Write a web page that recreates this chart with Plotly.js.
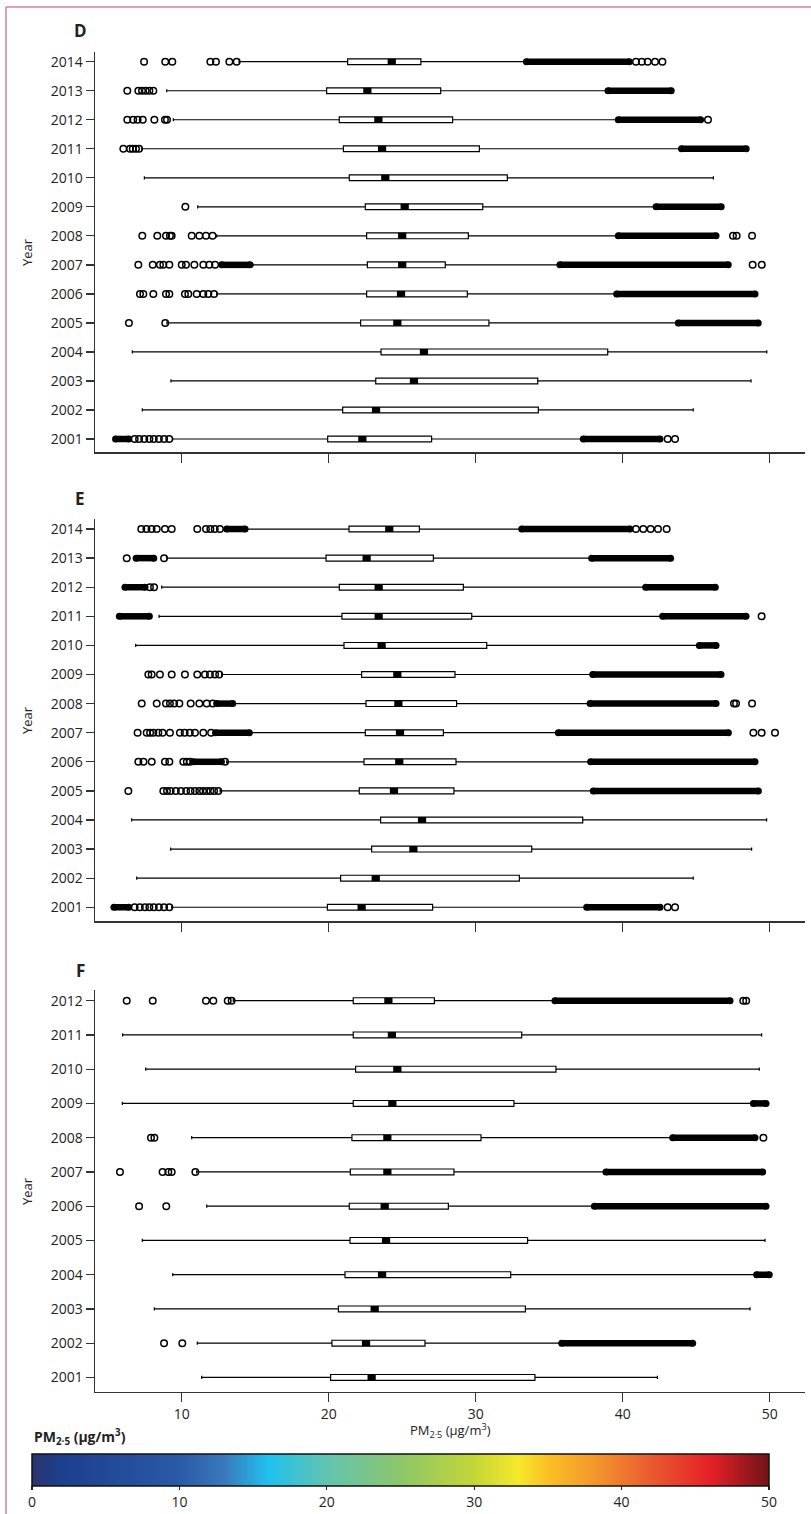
<!DOCTYPE html>
<html>
<head>
<meta charset="utf-8">
<script src="https://cdn.plot.ly/plotly-3.0.1.min.js"></script>
<style>html,body{margin:0;padding:0;background:#fff;}#chart{width:811px;height:1514px;}</style>
</head>
<body>
<div id="chart"></div>
<script>
// ---------- Panel D (2014 -> 2001) ----------
const yearsD = [2014,2013,2012,2011,2010,2009,2008,2007,2006,2005,2004,2003,2002,2001];
const loD  = [13.9, 8.98, 9.43, 7.28, 7.46, 11.09, 12.38, 14.83, 12.38, 9.0, 6.64, 9.27, 7.32, 9.38];
const q1D  = [21.29, 19.86, 20.72, 21.0, 21.4, 22.49, 22.58, 22.63, 22.58, 22.17, 23.56, 23.2, 20.95, 19.93];
const medD = [24.29, 22.63, 23.38, 23.63, 23.85, 25.17, 25.0, 25.0, 24.92, 24.67, 26.48, 25.8, 23.22, 22.29];
const q3D  = [26.27, 27.62, 28.43, 30.25, 32.15, 30.48, 29.5, 27.93, 29.43, 30.9, 38.98, 34.22, 34.26, 27.0];
const hiD  = [33.45, 39.0, 39.7, 44.0, 46.17, 42.27, 39.7, 35.73, 39.59, 43.78, 49.8, 48.73, 44.8, 37.32];
const outD = [
  [7.44, 8.88, 9.36, 11.95, 12.33, 13.24, 13.74, 40.9, 41.3, 41.7, 42.2, 42.7],
  [6.30, 7.05, 7.3, 7.55, 7.8, 8.07],
  [6.3, 6.7, 7.0, 7.35, 8.14, 8.86, 9.0, 45.8],
  [6.03, 6.48, 6.67, 6.89, 7.1],
  [],
  [10.25],
  [7.32, 8.34, 8.93, 9.2, 9.32, 10.68, 11.2, 11.65, 12.1, 47.5, 47.75, 48.8],
  [7.05, 8.03, 8.52, 8.75, 9.16, 10.0, 10.29, 10.86, 11.47, 11.88, 12.27, 48.84, 49.46],
  [7.16, 7.39, 8.07, 8.93, 9.16, 10.22, 10.45, 11.02, 11.47, 11.81, 12.2],
  [6.41, 8.88],
  [], [], [],
  [6.8, 7.1, 7.45, 7.8, 8.1, 8.45, 8.8, 9.15, 43.06, 43.56]
];
const denseLoD = [null, null, null, null, null, null, null, [12.72, 14.65], null, null, null, null, null, [5.5, 6.4]];
const denseHiD = [[33.45, 40.45], [39.0, 43.3], [39.7, 45.3], [44.0, 48.4], null, [42.27, 46.7], [39.7, 46.35],
                  [35.73, 47.18], [39.59, 49.0], [43.78, 49.22], null, null, null, [37.32, 42.54]];

// ---------- Panel E (2014 -> 2001) ----------
const yearsE = [2014,2013,2012,2011,2010,2009,2008,2007,2006,2005,2004,2003,2002,2001];
const loE  = [14.42, 8.98, 8.64, 8.46, 6.87, 12.72, 13.51, 14.65, 13.06, 12.61, 6.6, 9.25, 6.94, 9.32];
const q1E  = [21.38, 19.82, 20.72, 20.9, 21.04, 22.24, 22.54, 22.49, 22.4, 22.08, 23.53, 22.92, 20.81, 19.91];
const medE = [24.12, 22.58, 23.4, 23.4, 23.6, 24.67, 24.74, 24.85, 24.8, 24.44, 26.35, 25.76, 23.2, 22.24];
const q3E  = [26.17, 27.12, 29.16, 29.73, 30.75, 28.59, 28.7, 27.8, 28.66, 28.52, 37.28, 33.81, 32.97, 27.07];
const hiE  = [33.13, 37.89, 41.56, 42.72, 45.21, 37.96, 37.78, 35.62, 37.82, 38.0, 49.79, 48.77, 44.8, 37.55];
const outE = [
  [7.25, 7.6, 7.95, 8.3, 8.86, 9.32, 11.06, 11.65, 11.95, 12.25, 12.6, 40.9, 41.4, 41.9, 42.4, 42.99],
  [6.26, 8.8],
  [7.84, 8.12],
  [49.45],
  [],
  [7.73, 7.96, 8.52, 9.32, 10.22, 11.06, 11.58, 11.92, 12.27, 12.55],
  [7.28, 8.3, 8.93, 9.2, 9.48, 9.84, 10.61, 11.2, 11.7, 12.11, 47.57, 47.71, 48.8],
  [7.0, 7.62, 7.85, 8.07, 8.41, 8.7, 9.2, 9.88, 10.2, 10.55, 10.9, 11.47, 12.0, 48.89, 49.45, 50.36],
  [7.05, 7.4, 7.96, 8.86, 9.16, 10.11, 10.35, 10.56, 12.95],
  [6.37, 8.75, 9.0, 9.25, 9.6, 9.95, 10.3, 10.6, 10.9, 11.2, 11.45, 11.7, 11.95, 12.2, 12.49],
  [], [], [],
  [6.8, 7.15, 7.5, 7.8, 8.1, 8.45, 8.8, 9.16, 43.06, 43.56]
];
const denseLoE = [[13.06, 14.31], [6.9, 8.1], [6.14, 7.5], [5.76, 7.8], null, null, [12.38, 13.47], [12.3, 14.6],
                  [10.79, 12.7], null, null, null, null, [5.39, 6.4]];
const denseHiE = [[33.13, 40.5], [37.89, 43.26], [41.56, 46.3], [42.72, 48.39], [45.21, 46.35], [37.96, 46.69],
                  [37.78, 46.35], [35.62, 47.19], [37.82, 49.0], [38.0, 49.23], null, null, null, [37.55, 42.54]];

// ---------- Panel F (2012 -> 2001) ----------
const yearsF = [2012,2011,2010,2009,2008,2007,2006,2005,2004,2003,2002,2001];
const loF  = [13.51, 5.98, 7.55, 5.96, 10.68, 11.02, 11.7, 7.32, 9.39, 8.14, 11.06, 11.36];
const q1F  = [21.67, 21.67, 21.83, 21.67, 21.58, 21.47, 21.4, 21.45, 21.11, 20.66, 20.22, 20.13];
const medF = [24.06, 24.3, 24.67, 24.33, 23.99, 23.99, 23.81, 23.9, 23.63, 23.13, 22.54, 22.92];
const q3F  = [27.19, 33.13, 35.46, 32.6, 30.36, 28.52, 28.14, 33.53, 32.38, 33.38, 26.55, 34.03];
const hiF  = [35.39, 49.45, 49.29, 48.89, 43.4, 38.86, 38.07, 49.68, 49.11, 48.66, 35.85, 42.36];
const outF = [
  [6.26, 8.03, 11.65, 12.15, 13.13, 13.4, 48.2, 48.4],
  [], [], [],
  [7.91, 8.14, 49.57],
  [5.8, 8.7, 9.09, 9.32, 10.93],
  [7.1, 8.95],
  [], [], [],
  [8.8, 10.04],
  []
];
const denseLoF = [null, null, null, null, null, null, null, null, null, null, null, null];
const denseHiF = [[35.39, 47.3], null, null, [48.89, 49.75], [43.4, 49.0], [38.86, 49.52], [38.07, 49.75],
                  null, [49.11, 49.97], null, [35.85, 44.76], null];

// ---------- axis / colour scale ----------
const xTicks = [10, 20, 30, 40, 50];
const cbTicks = [0, 10, 20, 30, 40, 50];
const pmColorscale = [
  [0.00, '#2b3470'], [0.04, '#1c3f8e'], [0.20, '#2b5aa8'], [0.26, '#3a78bb'],
  [0.32, '#1fc0ee'], [0.40, '#62c4b0'], [0.50, '#8cc66a'], [0.60, '#c4d636'],
  [0.66, '#f6e92b'], [0.70, '#fbbf24'], [0.76, '#f39a2c'], [0.84, '#ea5a2f'],
  [0.92, '#e62128'], [1.00, '#6f1418']
];

// ---------- geometry helpers (pixels -> paper) ----------
const W = 811, H = 1514;
const px = x => x / W;
const py = y => 1 - y / H;
const FONT = 'Open Sans, Noto Sans, sans-serif';
const TXT = '#222';

const traces = [];
function panel(n, years, lo, q1, med, q3, hi, outs, dLo, dHi, boxW) {
  const xa = 'x' + (n === 1 ? '' : n), ya = 'y' + (n === 1 ? '' : n);
  traces.push({
    type: 'box', orientation: 'h', y: years, q1: q1, median: med, q3: q3,
    lowerfence: lo, upperfence: hi, xaxis: xa, yaxis: ya, boxpoints: false,
    fillcolor: '#ffffff', line: {color: '#000', width: 1.2}, width: boxW,
    whiskerwidth: 0.55, hoverinfo: 'skip', showlegend: false
  });
  // median as black block
  const mx = [], my = [];
  med.forEach((m, i) => { mx.push(m - 0.28, m + 0.28, null); my.push(years[i], years[i], null); });
  traces.push({type: 'scatter', mode: 'lines', x: mx, y: my, xaxis: xa, yaxis: ya,
    line: {color: '#000', width: 6}, hoverinfo: 'skip', showlegend: false});
  // individual outliers
  const ox = [], oy = [];
  outs.forEach((arr, i) => arr.forEach(v => { ox.push(v); oy.push(years[i]); }));
  traces.push({type: 'scatter', mode: 'markers', x: ox, y: oy, xaxis: xa, yaxis: ya,
    marker: {symbol: 'circle-open', size: 6.5, color: '#000', line: {width: 1.5, color: '#000'}},
    hoverinfo: 'skip', showlegend: false});
  // dense runs of overlapping outliers
  const dx = [], dy = [];
  [dLo, dHi].forEach(list => list.forEach((r, i) => {
    if (r) { dx.push(r[0], r[1], null); dy.push(years[i], years[i], null); }
  }));
  traces.push({type: 'scatter', mode: 'lines+markers', x: dx, y: dy, xaxis: xa, yaxis: ya,
    line: {color: '#000', width: 6.5}, marker: {symbol: 'circle', size: 7, color: '#000'},
    hoverinfo: 'skip', showlegend: false});
}
panel(1, yearsD, loD, q1D, medD, q3D, hiD, outD, denseLoD, denseHiD, 0.2);
panel(2, yearsE, loE, q1E, medE, q3E, hiE, outE, denseLoE, denseHiE, 0.2);
panel(3, yearsF, loF, q1F, medF, q3F, hiF, outF, denseLoF, denseHiF, 0.17);

// colour bar carrier (invisible marker)
traces.push({
  type: 'scatter', mode: 'markers', x: [20, 20], y: [2001, 2001], xaxis: 'x3', yaxis: 'y3',
  marker: {color: [cbTicks[0], cbTicks[cbTicks.length - 1]], opacity: 0, size: 1,
    colorscale: pmColorscale, cmin: 0, cmax: 50, showscale: true,
    colorbar: {
      orientation: 'h', x: px(400.5), xanchor: 'center', y: py(1454), yanchor: 'top',
      len: 737, lenmode: 'pixels', thickness: 32, thicknessmode: 'pixels',
      xpad: 0, ypad: 0, outlinewidth: 1.5, outlinecolor: '#111',
      ticks: 'outside', ticklen: 4, tickwidth: 1.2, tickcolor: '#222',
      tickvals: cbTicks, ticktext: cbTicks.map(String),
      tickfont: {family: FONT, size: 14, color: TXT}, title: {text: ''}
    }},
  hoverinfo: 'skip', showlegend: false
});

const xDom = [px(95), px(805)];
const xRange = [(95 - 34.7) / 14.7, (805 - 34.7) / 14.7];
function xaxis(showLabels, anchor) {
  return {domain: xDom, range: xRange, anchor: anchor, showline: true, linecolor: '#333', linewidth: 1.5,
    ticks: 'outside', ticklen: 9, tickwidth: 1.3, tickcolor: '#333', tickvals: xTicks,
    showticklabels: showLabels, tickfont: {family: FONT, size: 14, color: TXT},
    showgrid: false, zeroline: false, fixedrange: true};
}
function yaxis(top, bottom, range, years, anchor) {
  return {domain: [py(bottom), py(top)], range: range, anchor: anchor, showline: true, linecolor: '#333',
    linewidth: 1.5, ticks: 'outside', ticklen: 8, tickwidth: 1.3, tickcolor: '#333',
    tickvals: years, ticktext: years.map(String), tickfont: {family: FONT, size: 14, color: TXT},
    showgrid: false, zeroline: false, fixedrange: true};
}

const ann = [];
function label(text, x, y, opts) {
  ann.push(Object.assign({text: text, x: px(x), y: py(y), xref: 'paper', yref: 'paper', showarrow: false,
    xanchor: 'center', yanchor: 'middle', font: {family: FONT, size: 14, color: TXT}}, opts || {}));
}
label('<b>D</b>', 80, 31, {font: {family: FONT, size: 17, color: TXT}});
label('<b>E</b>', 80, 498, {font: {family: FONT, size: 17, color: TXT}});
label('<b>F</b>', 80, 970, {font: {family: FONT, size: 17, color: TXT}});
label('Year', 27, 252, {textangle: -90, font: {family: FONT, size: 13, color: TXT}});
label('Year', 27, 720, {textangle: -90, font: {family: FONT, size: 13, color: TXT}});
label('Year', 27, 1191, {textangle: -90, font: {family: FONT, size: 13, color: TXT}});
label('PM<sub>2·5</sub> (μg/m<sup>3</sup>)', 450, 1430, {font: {family: FONT, size: 13, color: TXT}});
label('<b>PM<sub>2·5</sub> (μg/m<sup>3</sup>)</b>', 32, 1437, {xanchor: 'left', font: {family: FONT, size: 14, color: TXT}});

const layout = {
  width: W, height: H, margin: {l: 0, r: 0, t: 0, b: 0, pad: 0},
  paper_bgcolor: '#fff', plot_bgcolor: 'rgba(0,0,0,0)', showlegend: false,
  font: {family: FONT, color: TXT},
  xaxis: xaxis(false, 'y'),
  yaxis: yaxis(51.7, 452, [2001 - 13 / 29, 2014 + 10 / 29], yearsD, 'x'),
  xaxis2: xaxis(false, 'y2'),
  yaxis2: yaxis(519, 921, [2001 - 13.7 / 29, 2014 + 10 / 29], yearsE, 'x2'),
  xaxis3: xaxis(true, 'y3'),
  yaxis3: yaxis(989.7, 1391.7, [2001 - 14.3 / 34.3, 2012 + 11 / 34.3], yearsF, 'x3'),
  annotations: ann,
  shapes: [
    {type: 'line', xref: 'paper', yref: 'paper', x0: px(6), x1: 1, y0: py(7), y1: py(7), line: {color: '#d6819a', width: 1.5}},
    {type: 'line', xref: 'paper', yref: 'paper', x0: px(6), x1: px(6), y0: py(7), y1: 0, line: {color: '#d6819a', width: 1.5}}
  ]
};
Plotly.newPlot('chart', traces, layout, {staticPlot: true, displayModeBar: false});
</script>
</body>
</html>
